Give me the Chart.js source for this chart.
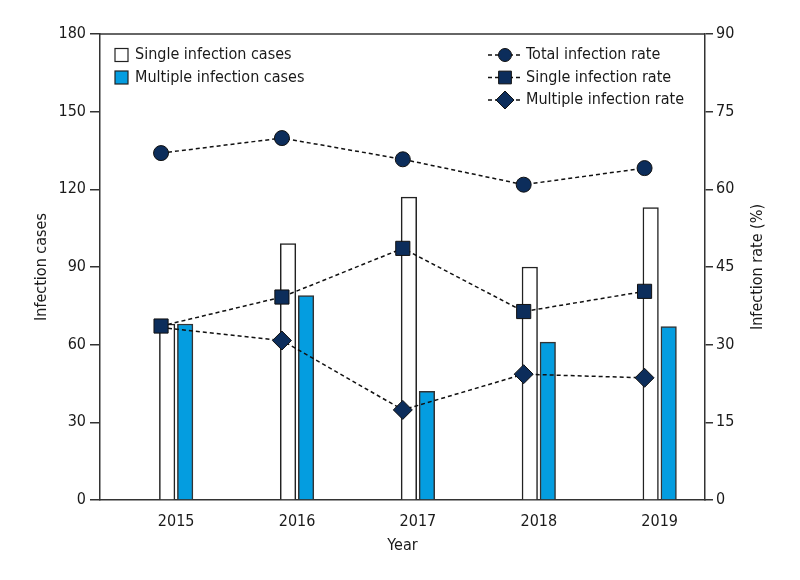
<!DOCTYPE html>
<html>
<head>
<meta charset="utf-8">
<script src="https://cdn.jsdelivr.net/npm/chart.js@4.4.0/dist/chart.umd.min.js"></script>
<style>
  html, body { margin: 0; padding: 0; background: #fff; }
</style>
</head>
<body>
<canvas id="chart_1" width="800" height="580"></canvas>
<script>
const years = [2015, 2016, 2017, 2018, 2019];
const singleCases = [68, 99, 117, 90, 113];
const multipleCases = [68, 79, 42, 61, 67];
const totalRate = [67.0, 69.9, 65.8, 60.9, 64.1];
const singleRate = [33.6, 39.2, 48.6, 36.4, 40.3];
const multipleRate = [33.3, 30.8, 17.4, 24.3, 23.6];
const caseTicks = [0, 30, 60, 90, 120, 150, 180];
const rateTicks = [0, 15, 30, 45, 60, 75, 90];

const FONT = '"Liberation Sans Narrow", "Arial Narrow", "DejaVu Sans Condensed", sans-serif';
const FONT_SIZE = 16;
const AXIS = "#333";
const TEXT = "#1a1a1a";
const NAVY = "#0c2d5b";

// x range is a bit lopsided in the original; each series gets its own hidden
// x axis, shifted a little, so the bars sit side by side and the lines run
// along the left edge of the white bars
const xMin = 2014.37;
const xMax = 2019.375;
const barShift = 0.0745;
const lineShift = 0.125;

Chart.defaults.font.family = FONT;
Chart.defaults.font.size = FONT_SIZE;
Chart.defaults.color = TEXT;

function drawMarker(ctx, style, x, y, r) {
  ctx.beginPath();
  if (style === "circle") {
    ctx.arc(x, y, r, 0, Math.PI * 2);
  } else if (style === "rect") {
    const h = r * Math.SQRT1_2;
    ctx.rect(x - h, y - h, 2 * h, 2 * h);
  } else {
    ctx.moveTo(x, y - r);
    ctx.lineTo(x + r, y);
    ctx.lineTo(x, y + r);
    ctx.lineTo(x - r, y);
    ctx.closePath();
  }
  ctx.fill();
  ctx.stroke();
}

const extras = {
  id: "extras",
  afterDraw(chart) {
    const { ctx, chartArea: a } = chart;
    const sets = chart.data.datasets;
    ctx.save();

    // top frame line
    ctx.strokeStyle = AXIS;
    ctx.lineWidth = 1.5;
    ctx.beginPath();
    ctx.moveTo(a.left, a.top);
    ctx.lineTo(a.right, a.top);
    ctx.stroke();

    ctx.font = FONT_SIZE + "px " + FONT;
    ctx.fillStyle = TEXT;
    ctx.textBaseline = "middle";

    // bar legend (left)
    const barSets = sets.filter((d) => d.type === "bar");
    barSets.forEach((d, i) => {
      const y = 55 + i * 22.5;
      ctx.fillStyle = d.backgroundColor;
      ctx.strokeStyle = "#222";
      ctx.lineWidth = 1.2;
      ctx.fillRect(115, y - 6.5, 13, 13);
      ctx.strokeRect(115, y - 6.5, 13, 13);
      ctx.fillStyle = TEXT;
      ctx.textAlign = "left";
      ctx.fillText(d.label, 135, y);
    });

    // line legend (right)
    const lineSets = sets.filter((d) => d.type === "line");
    lineSets.forEach((d, i) => {
      const y = 55 + i * 22.5;
      ctx.strokeStyle = "#111";
      ctx.lineWidth = 1.5;
      ctx.setLineDash([4, 3]);
      ctx.beginPath();
      ctx.moveTo(488, y);
      ctx.lineTo(522, y);
      ctx.stroke();
      ctx.setLineDash([]);
      ctx.fillStyle = NAVY;
      ctx.lineWidth = 1;
      const r = d.pointStyle === "circle" ? 6.5 : 9;
      drawMarker(ctx, d.pointStyle, 505, y, r);
      ctx.fillStyle = TEXT;
      ctx.textAlign = "left";
      ctx.fillText(d.label, 526, y);
    });

    // right axis title, reads bottom to top
    ctx.translate(758, (a.top + a.bottom) / 2);
    ctx.rotate(-Math.PI / 2);
    ctx.textAlign = "center";
    ctx.fillStyle = TEXT;
    ctx.fillText("Infection rate (%)", 0, 0);
    ctx.restore();
  },
};

function rateLine(label, data, style, radius) {
  return {
    type: "line",
    label: label,
    data: data,
    xAxisID: "xl",
    yAxisID: "y2",
    order: 0,
    fill: false,
    tension: 0,
    borderColor: "#111",
    borderWidth: 1.5,
    borderDash: [4, 3],
    pointStyle: style,
    pointRadius: radius,
    pointBackgroundColor: NAVY,
    pointBorderColor: "#111",
    pointBorderWidth: 1,
  };
}

function caseBars(label, data, fill, edge, axisId) {
  return {
    type: "bar",
    label: label,
    data: data,
    backgroundColor: fill,
    borderColor: edge,
    borderWidth: 1.5,
    xAxisID: axisId,
    yAxisID: "y",
    order: 1,
    grouped: false,
    barThickness: 15.5,
  };
}

function hiddenX(shift) {
  return { type: "linear", display: false, offset: false, min: xMin + shift, max: xMax + shift };
}

const multipleLine = rateLine("Multiple infection rate", multipleRate, "rectRot", 9.5);
// first diamond sits under the square in the original and is not visible
multipleLine.pointRadius = (c) => (c.dataIndex === 0 ? 0 : 9.5);

const config_1 = {
  type: "bar",
  data: {
    labels: years,
    datasets: [
      caseBars("Single infection cases", singleCases, "#ffffff", "#222", "xs"),
      caseBars("Multiple infection cases", multipleCases, "#049de0", "#333", "xm"),
      rateLine("Total infection rate", totalRate, "circle", 7.5),
      rateLine("Single infection rate", singleRate, "rect", 10),
      multipleLine,
    ],
  },
  options: {
    responsive: false,
    animation: false,
    events: [],
    layout: { padding: { top: 34, left: 0, right: 0, bottom: 0 } },
    plugins: {
      legend: { display: false },
      tooltip: { enabled: false },
    },
    scales: {
      x: {
        type: "linear",
        position: "bottom",
        offset: false,
        min: xMin,
        max: xMax,
        afterBuildTicks: (s) => {
          s.ticks = years.map((v) => ({ value: v }));
        },
        afterFit: (s) => {
          s.height = 80;
        },
        grid: { display: false },
        border: { display: true, color: AXIS, width: 1.5 },
        ticks: { padding: 4, callback: (v) => String(v) },
        title: { display: true, text: "Year", padding: { top: 0, bottom: 25 } },
      },
      xs: hiddenX(barShift),
      xm: hiddenX(-barShift),
      xl: hiddenX(lineShift),
      y: {
        position: "left",
        min: caseTicks[0],
        max: caseTicks[caseTicks.length - 1],
        afterBuildTicks: (s) => {
          s.ticks = caseTicks.map((v) => ({ value: v }));
        },
        afterFit: (s) => {
          s.width = 100;
        },
        grid: { drawOnChartArea: false, drawTicks: true, tickLength: 10, color: AXIS, lineWidth: 1.5 },
        border: { display: true, color: AXIS, width: 1.5 },
        ticks: { padding: 4 },
        title: { display: true, text: "Infection cases", padding: { top: 32, bottom: 0 } },
      },
      y2: {
        position: "right",
        min: rateTicks[0],
        max: rateTicks[rateTicks.length - 1],
        afterBuildTicks: (s) => {
          s.ticks = rateTicks.map((v) => ({ value: v }));
        },
        afterFit: (s) => {
          s.width = 95;
        },
        grid: { drawOnChartArea: false, drawTicks: true, tickLength: 8, color: AXIS, lineWidth: 1.5 },
        border: { display: true, color: AXIS, width: 1.5 },
        ticks: { padding: 3 },
      },
    },
  },
  plugins: [extras],
};

new Chart(document.getElementById("chart_1"), config_1);
</script>
</body>
</html>
